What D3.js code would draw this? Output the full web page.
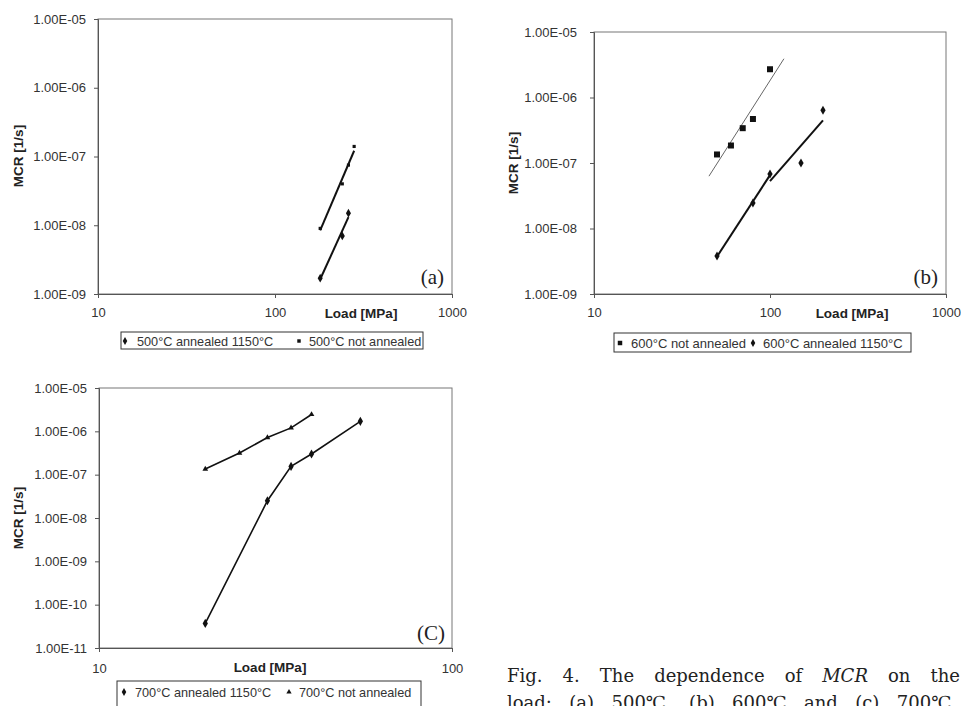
<!DOCTYPE html>
<html>
<head>
<meta charset="utf-8">
<script src="https://cdn.jsdelivr.net/npm/d3@7"></script>
<style>
  body { margin: 0; background: #fff; }
  svg { display: block; }
</style>
</head>
<body>
<svg id="chart" width="961" height="706"></svg>
<script>
// Panel (a): 500°C
const loadA_annealed = [180, 240, 260];
const mcrA_annealed = [1.7e-9, 7.0e-9, 1.5e-8];
const loadA_plain = [180, 240, 260, 280];
const mcrA_plain = [9.0e-9, 4.0e-8, 7.5e-8, 1.4e-7];

// Panel (b): 600°C
const loadB_plain = [50, 60, 70, 80, 100];
const mcrB_plain = [1.35e-7, 1.85e-7, 3.4e-7, 4.7e-7, 2.7e-6];
const loadB_annealed = [50, 80, 100, 150, 200];
const mcrB_annealed = [3.8e-9, 2.45e-8, 6.8e-8, 1.0e-7, 6.4e-7];

// Panel (c): 700°C
const loadC_annealed = [20, 30, 35, 40, 55];
const mcrC_annealed = [3.7e-11, 2.5e-8, 1.55e-7, 3.0e-7, 1.7e-6];
const loadC_plain = [20, 25, 30, 35, 40];
const mcrC_plain = [1.35e-7, 3.15e-7, 7.2e-7, 1.2e-6, 2.45e-6];

// Tick values
const xTicksWide = [10, 100, 1000];
const xTicksNarrow = [10, 100];
const yTicksAB = [1e-9, 1e-8, 1e-7, 1e-6, 1e-5];
const yTicksC = [1e-11, 1e-10, 1e-9, 1e-8, 1e-7, 1e-6, 1e-5];

// Caption lines, words (italic flag)
const captionLine1 = [["Fig.", 0], ["4.", 0], ["The", 0], ["dependence", 0], ["of", 0], ["MCR", 1], ["on", 0], ["the", 0]];
const captionLine2 = [["load:", 0], ["(a)", 0], ["500℃,", 0], ["(b)", 0], ["600℃", 0], ["and", 0], ["(c)", 0], ["700℃.", 0]];

const svg = d3.select("#chart");
const sans = "Liberation Sans, Arial, sans-serif";
const serif = "Liberation Serif, Times New Roman, serif";
const captionFont = "DejaVu Serif, serif";

// Excel style "1.00E-05"
const sciFormat = (v) => {
  const e = Math.round(Math.log10(v));
  const m = v / Math.pow(10, e);
  const sign = e < 0 ? "-" : "+";
  return m.toFixed(2) + "E" + sign + String(Math.abs(e)).padStart(2, "0");
};

// least squares line in log-log space
const powerFit = (xs, ys) => {
  const lx = xs.map(Math.log10), ly = ys.map(Math.log10);
  const mx = d3.mean(lx), my = d3.mean(ly);
  let sxy = 0, sxx = 0;
  lx.forEach((v, i) => { sxy += (v - mx) * (ly[i] - my); sxx += (v - mx) * (v - mx); });
  const b = sxy / sxx;
  return (x) => Math.pow(10, my + b * (Math.log10(x) - mx));
};

const symbols = {
  diamond: d3.symbol().type(d3.symbolDiamond),
  square: d3.symbol().type(d3.symbolSquare),
  triangle: d3.symbol().type(d3.symbolTriangle)
};

const drawPanel = (p) => {
  const g = svg.append("g");
  const x = d3.scaleLog().domain(p.xDomain).range([p.left, p.right]);
  const y = d3.scaleLog().domain(p.yDomain).range([p.bottom, p.top]);

  // plot area border
  g.append("rect")
    .attr("x", p.left).attr("y", p.top)
    .attr("width", p.right - p.left).attr("height", p.bottom - p.top)
    .attr("fill", "none").attr("stroke", "#777").attr("stroke-width", 1);

  const yAxis = g.append("g")
    .attr("transform", `translate(${p.left},0)`)
    .call(d3.axisLeft(y).tickValues(p.yTicks).tickFormat(sciFormat).tickSize(4).tickPadding(p.yPad));
  const xAxis = g.append("g")
    .attr("transform", `translate(0,${p.bottom})`)
    .call(d3.axisBottom(x).tickValues(p.xTicks).tickFormat(d3.format("d")).tickSize(4).tickPadding(p.xPad));

  [yAxis, xAxis].forEach((ax) => {
    ax.select(".domain").attr("stroke", "#555");
    ax.selectAll(".tick line").attr("stroke", "#555");
    ax.selectAll("text").attr("font-family", sans).attr("font-size", 13).attr("fill", "#333");
  });

  // axis titles
  g.append("text")
    .attr("transform", `translate(${p.yTitleX},${p.yTitleY}) rotate(-90)`)
    .attr("text-anchor", "middle")
    .attr("font-family", sans).attr("font-weight", "bold").attr("font-size", 13.5)
    .attr("fill", "#222")
    .text("MCR [1/s]");
  g.append("text")
    .attr("x", p.xTitleX).attr("y", p.xTitleY)
    .attr("text-anchor", "middle")
    .attr("font-family", sans).attr("font-weight", "bold").attr("font-size", 13.5)
    .attr("fill", "#222")
    .text("Load [MPa]");

  // lines
  const line = d3.line().x(d => x(d[0])).y(d => y(d[1]));
  p.series.forEach((s) => {
    const pts = s.xs.map((v, i) => [v, s.ys[i]]);
    if (s.connect) {
      g.append("path").datum(pts).attr("d", line)
        .attr("fill", "none").attr("stroke", s.stroke).attr("stroke-width", s.width);
    }
    (s.fits || []).forEach((f) => {
      const xs = s.xs.slice(f.from, f.to), ys = s.ys.slice(f.from, f.to);
      const fit = powerFit(xs, ys);
      const x0 = f.x0 || d3.min(xs), x1 = f.x1 || d3.max(xs);
      g.append("path").datum([[x0, fit(x0)], [x1, fit(x1)]]).attr("d", line)
        .attr("fill", "none").attr("stroke", s.stroke).attr("stroke-width", s.width);
    });
    g.selectAll(null).data(pts).enter().append("path")
      .attr("transform", d => `translate(${x(d[0])},${y(d[1])})`)
      .attr("d", symbols[s.symbol].size(s.size)())
      .attr("fill", "#111");
  });

  // panel tag
  g.append("text")
    .attr("x", p.tagX).attr("y", p.tagY)
    .attr("text-anchor", "end")
    .attr("font-family", serif).attr("font-size", 21).attr("fill", "#222")
    .text(p.tag);

  // legend
  const lg = g.append("g");
  lg.append("rect")
    .attr("x", p.legend.x).attr("y", p.legend.y)
    .attr("width", p.legend.w).attr("height", p.legend.h)
    .attr("fill", "#fff").attr("stroke", "#333").attr("stroke-width", 1);
  p.legend.items.forEach((it) => {
    lg.append("path")
      .attr("transform", `translate(${it.mx},${p.legend.cy})`)
      .attr("d", symbols[it.symbol].size(it.size)())
      .attr("fill", "#111");
    lg.append("text")
      .attr("x", it.tx).attr("y", p.legend.cy + 4.6)
      .attr("font-family", sans).attr("font-size", p.legend.fs).attr("fill", "#333")
      .text(it.label);
  });
};

drawPanel({
  left: 98, right: 452, top: 19, bottom: 294,
  xDomain: [10, 1000], yDomain: [1e-9, 1e-5],
  xTicks: xTicksWide, yTicks: yTicksAB, yPad: 8, xPad: 10,
  yTitleX: 23, yTitleY: 156, xTitleX: 361, xTitleY: 318,
  tag: "(a)", tagX: 444, tagY: 284,
  series: [
    { xs: loadA_plain, ys: mcrA_plain, symbol: "square", size: 10, stroke: "#111", width: 2, fits: [{ from: 0, to: 4 }] },
    { xs: loadA_annealed, ys: mcrA_annealed, symbol: "diamond", size: 22, stroke: "#111", width: 2, fits: [{ from: 0, to: 3 }] }
  ],
  legend: {
    x: 121, y: 332, w: 302, h: 17, cy: 341, fs: 12.7,
    items: [
      { symbol: "diamond", size: 18, mx: 125, tx: 137, label: "500°C annealed 1150°C" },
      { symbol: "square", size: 12, mx: 299, tx: 309, label: "500°C not annealed" }
    ]
  }
});

drawPanel({
  left: 594, right: 946, top: 32, bottom: 294,
  xDomain: [10, 1000], yDomain: [1e-9, 1e-5],
  xTicks: xTicksWide, yTicks: yTicksAB, yPad: 13, xPad: 10,
  yTitleX: 518, yTitleY: 163, xTitleX: 852, xTitleY: 318,
  tag: "(b)", tagX: 938, tagY: 284,
  series: [
    { xs: loadB_plain, ys: mcrB_plain, symbol: "square", size: 36, stroke: "#666", width: 1, fits: [{ from: 0, to: 5, x0: 45, x1: 120 }] },
    { xs: loadB_annealed, ys: mcrB_annealed, symbol: "diamond", size: 24, stroke: "#111", width: 2, fits: [{ from: 0, to: 3 }, { from: 2, to: 5 }] }
  ],
  legend: {
    x: 614, y: 333, w: 297, h: 19, cy: 343, fs: 13,
    items: [
      { symbol: "square", size: 20, mx: 620, tx: 631, label: "600°C not annealed" },
      { symbol: "diamond", size: 18, mx: 753, tx: 763, label: "600°C annealed 1150°C" }
    ]
  }
});

drawPanel({
  left: 99, right: 452, top: 388, bottom: 648,
  xDomain: [10, 100], yDomain: [1e-11, 1e-5],
  xTicks: xTicksNarrow, yTicks: yTicksC, yPad: 8, xPad: 12,
  yTitleX: 23, yTitleY: 518, xTitleX: 270, xTitleY: 672,
  tag: "(C)", tagX: 445, tagY: 640,
  series: [
    { xs: loadC_plain, ys: mcrC_plain, symbol: "triangle", size: 14, stroke: "#111", width: 1.6, connect: true },
    { xs: loadC_annealed, ys: mcrC_annealed, symbol: "diamond", size: 24, stroke: "#111", width: 1.6, connect: true }
  ],
  legend: {
    x: 117, y: 681, w: 304, h: 34, cy: 692, fs: 12.7,
    items: [
      { symbol: "diamond", size: 18, mx: 124, tx: 135, label: "700°C annealed 1150°C" },
      { symbol: "triangle", size: 12, mx: 289, tx: 299, label: "700°C not annealed" }
    ]
  }
});

// caption, justified word by word
const justify = (words, x0, x1, yBase) => {
  const nodes = words.map(([w, it]) => svg.append("text")
    .attr("y", yBase)
    .attr("font-family", captionFont).attr("font-size", 18).attr("fill", "#222")
    .attr("font-style", it ? "italic" : "normal")
    .text(w));
  const widths = nodes.map(n => n.node().getComputedTextLength());
  const gap = (x1 - x0 - d3.sum(widths)) / (words.length - 1);
  let cx = x0;
  nodes.forEach((n, i) => { n.attr("x", cx); cx += widths[i] + gap; });
};
justify(captionLine1, 507, 960, 682);
justify(captionLine2, 507, 957, 709);
</script>
</body>
</html>
